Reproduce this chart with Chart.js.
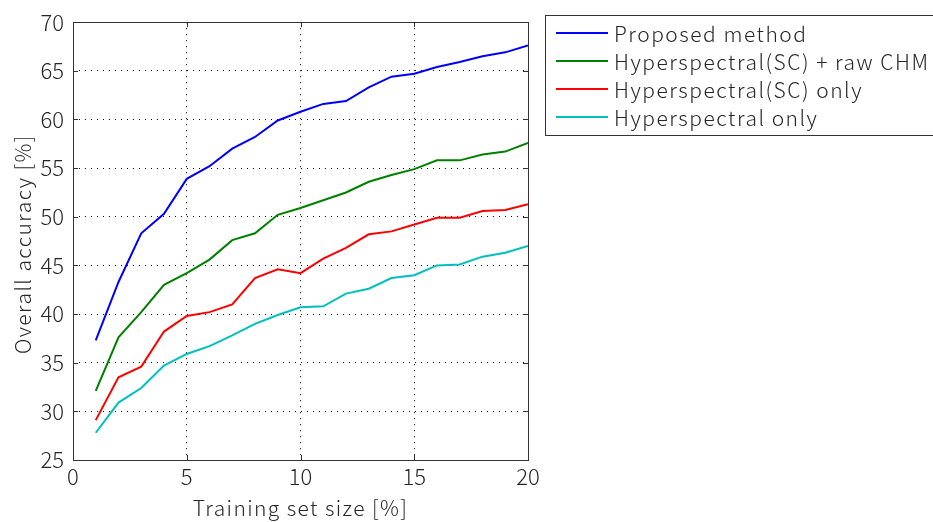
<!DOCTYPE html>
<html>
<head>
<meta charset="utf-8">
<script src="https://cdn.jsdelivr.net/npm/chart.js@4"></script>
<style>
html,body{margin:0;padding:0;background:#fff;}
#wrap{width:933px;height:522px;position:relative;}
</style>
</head>
<body>
<div id="wrap"><canvas id="c" width="933" height="522"></canvas></div>
<script>
const trainingSize = [1,2,3,4,5,6,7,8,9,10,11,12,13,14,15,16,17,18,19,20];
const proposed = [37.3,43.3,48.3,50.3,53.9,55.2,57.0,58.2,59.9,60.8,61.6,61.9,63.3,64.4,64.7,65.4,65.9,66.5,66.9,67.6];
const hsScRawChm = [32.1,37.6,40.2,43.0,44.2,45.6,47.6,48.3,50.2,50.9,51.7,52.5,53.6,54.3,54.9,55.8,55.8,56.4,56.7,57.6];
const hsScOnly = [29.1,33.5,34.6,38.2,39.8,40.2,41.0,43.7,44.6,44.2,45.7,46.8,48.2,48.5,49.2,49.9,49.9,50.6,50.7,51.3];
const hsOnly = [27.8,30.9,32.4,34.7,35.9,36.7,37.8,39.0,39.9,40.7,40.8,42.1,42.6,43.7,44.0,45.0,45.1,45.9,46.3,47.0];
const seriesNames = ['Proposed method','Hyperspectral(SC) + raw CHM','Hyperspectral(SC) only','Hyperspectral only'];
const seriesColors = ['#0000ff','#008000','#ff0000','#00bfbf'];
const xTicks = [0,5,10,15,20];
const yTicks = [25,30,35,40,45,50,55,60,65,70];
const xTitle = 'Training set size [%]';
const yTitle = 'Overall accuracy [%]';

const FONT = '"Noto Sans CJK JP", "DejaVu Sans", sans-serif';
const PLOT_L = 73, PLOT_R = 528, PLOT_T = 15, PLOT_B = 460;
const TEXT = '#262626';

const allSeries = [proposed, hsScRawChm, hsScOnly, hsOnly];
const datasets = allSeries.map((vals, i) => ({
  label: seriesNames[i],
  data: trainingSize.map((x, j) => ({x: x, y: vals[j]})),
  borderColor: seriesColors[i],
  backgroundColor: seriesColors[i],
  borderWidth: 2,
  pointRadius: 0,
  tension: 0,
  fill: false
}));

const framePlugin = {
  id: 'frame',
  afterDatasetsDraw(chart) {
    const ctx = chart.ctx, a = chart.chartArea;
    const xs = chart.scales.x, ys = chart.scales.y;
    ctx.save();
    ctx.strokeStyle = '#333';
    ctx.lineWidth = 1;
    ctx.strokeRect(Math.round(a.left)+0.5, Math.round(a.top)+0.5, Math.round(a.right-a.left), Math.round(a.bottom-a.top));
    ctx.beginPath();
    const tl = 5;
    xTicks.forEach(v => {
      const px = Math.round(xs.getPixelForValue(v))+0.5;
      ctx.moveTo(px, a.bottom); ctx.lineTo(px, a.bottom - tl);
      ctx.moveTo(px, a.top); ctx.lineTo(px, a.top + tl);
    });
    yTicks.forEach(v => {
      const py = Math.round(ys.getPixelForValue(v))+0.5;
      ctx.moveTo(a.left, py); ctx.lineTo(a.left + tl, py);
      ctx.moveTo(a.right, py); ctx.lineTo(a.right - tl, py);
    });
    ctx.stroke();
    ctx.restore();
  },
  afterDraw(chart) {
    const ctx = chart.ctx, a = chart.chartArea;
    ctx.save();
    // axis titles
    ctx.fillStyle = TEXT;
    ctx.font = '300 21px ' + FONT;
    ctx.letterSpacing = '1.4px';
    ctx.textAlign = 'center';
    ctx.textBaseline = 'middle';
    ctx.fillText(xTitle, (a.left + a.right) / 2, 508);
    ctx.save();
    ctx.translate(23, (a.top + a.bottom) / 2 + 3);
    ctx.rotate(-Math.PI / 2);
    ctx.fillText(yTitle, 0, 0);
    ctx.restore();
    // legend box
    ctx.fillStyle = '#fff';
    ctx.strokeStyle = '#333';
    ctx.lineWidth = 1;
    ctx.fillRect(545.5, 15.5, 400, 120);
    ctx.strokeRect(545.5, 15.5, 400, 120);
    ctx.font = '300 21px ' + FONT;
    ctx.letterSpacing = '1.5px';
    ctx.textBaseline = 'middle';
    ctx.textAlign = 'left';
    chart.data.datasets.forEach((ds, i) => {
      const y = 33 + i * 28;
      ctx.strokeStyle = ds.borderColor;
      ctx.lineWidth = 2;
      ctx.beginPath();
      ctx.moveTo(556, y); ctx.lineTo(608, y);
      ctx.stroke();
      ctx.fillStyle = TEXT;
      ctx.fillText(ds.label, 614, y + 1);
    });
    ctx.restore();
  }
};

new Chart(document.getElementById('c'), {
  type: 'line',
  data: { datasets: datasets },
  plugins: [framePlugin],
  options: {
    responsive: false,
    animation: false,
    layout: { padding: { left: 0, top: PLOT_T, right: 933 - PLOT_R, bottom: 0 } },
    plugins: { legend: { display: false }, tooltip: { enabled: false } },
    scales: {
      x: {
        type: 'linear', min: 0, max: 20,
        afterBuildTicks(s) { s.ticks = xTicks.map(v => ({value: v})); },
        afterFit(s) { s.height = 522 - PLOT_B; },
        grid: { color: '#000', lineWidth: 1, drawTicks: false },
        border: { display: false, dash: [1,5] },
        ticks: { color: TEXT, font: { size: 22, family: FONT, weight: 300 }, padding: 3, maxRotation: 0 },
        title: { display: false }
      },
      y: {
        type: 'linear', min: 25, max: 70,
        afterBuildTicks(s) { s.ticks = yTicks.map(v => ({value: v})); },
        afterFit(s) { s.width = PLOT_L; },
        grid: { color: '#000', lineWidth: 1, drawTicks: false },
        border: { display: false, dash: [1,5] },
        ticks: { color: TEXT, font: { size: 22, family: FONT, weight: 300 }, padding: 9 },
        title: { display: false }
      }
    }
  }
});
</script>
</body>
</html>
